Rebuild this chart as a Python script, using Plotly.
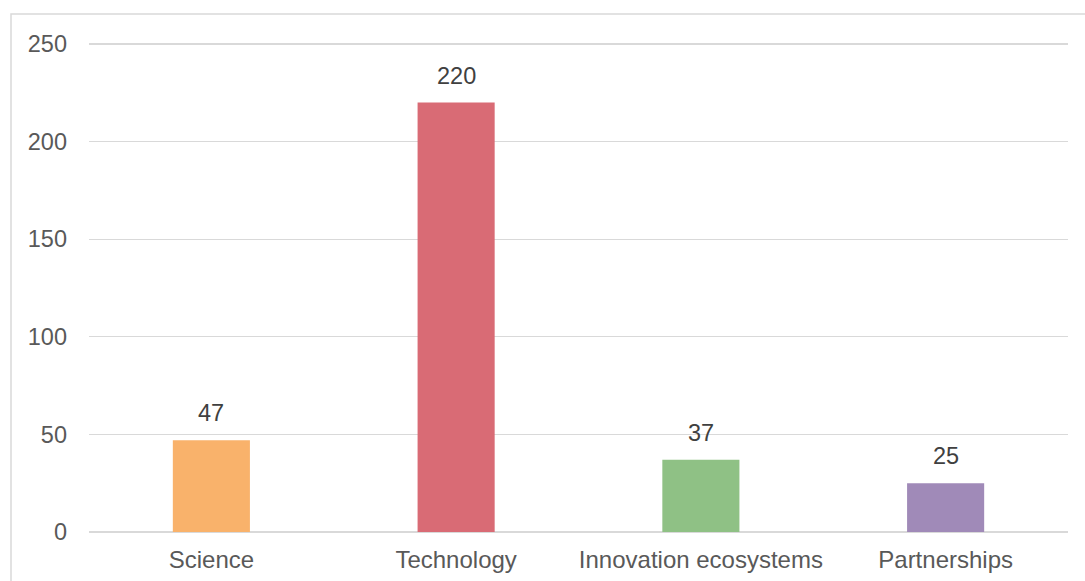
import plotly.graph_objects as go

categories = ["Science", "Technology", "Innovation ecosystems", "Partnerships"]
values = [47, 220, 37, 25]
colors = ["#F9B26B", "#D96B75", "#8FC185", "#A08AB8"]
y_ticks = [0, 50, 100, 150, 200, 250]

W, H = 1085, 581
px_per_unit = (532 - 44) / 250.0
head = 3  # px of headroom so the 250 gridline is drawn
L, R = 89, W - 1068
T = 44 - head
B = H - 532
pw, ph = W - L - R, H - T - B
ymax = 250 + head / px_per_unit

fig = go.Figure(go.Bar(
    x=categories, y=values, marker=dict(color=colors, line=dict(width=0)),
    width=0.315, hoverinfo="skip",
))

for c, v in zip(categories, values):
    fig.add_annotation(x=c, y=v, text=str(v), showarrow=False, yanchor="bottom",
                       yshift=12, font=dict(size=23.5, color="#404040"))

# outer chart border (partially outside the canvas)
fig.add_shape(type="rect", xref="paper", yref="paper",
              x0=(11 - L) / pw, x1=(W + 20 - L) / pw,
              y0=-(B + 20) / ph, y1=1 + (T - 14) / ph,
              line=dict(color="#D9D9D9", width=1.5), layer="below")

fig.update_layout(
    width=W, height=H,
    margin=dict(l=L, r=R, t=T, b=B, autoexpand=False),
    paper_bgcolor="white", plot_bgcolor="white",
    font=dict(family="Liberation Sans, Arial, sans-serif", size=23.5, color="#595959"),
    showlegend=False,
    bargap=0.685,
    xaxis=dict(showgrid=False, showline=False, zeroline=False, ticks="",
               tickfont=dict(size=24, color="#595959"), ticklabelstandoff=11,
               automargin=False, fixedrange=True),
    yaxis=dict(range=[0, ymax], tickvals=y_ticks, showgrid=True, gridcolor="#D9D9D9",
               gridwidth=1.3, zeroline=True, zerolinecolor="#D9D9D9", zerolinewidth=1.3,
               showline=False, ticks="", tickfont=dict(size=23.5, color="#595959"),
               ticklabelstandoff=21, automargin=False, fixedrange=True),
)

fig.write_html("out.html", config={"displayModeBar": False, "staticPlot": True})

# remove the default 8px body margin so the figure sits at the page origin
with open("out.html", "r", encoding="utf-8") as f:
    html = f.read()
html = html.replace("<head>", "<head><style>html,body{margin:0;padding:0;overflow:hidden;}</style>", 1)
with open("out.html", "w", encoding="utf-8") as f:
    f.write(html)
